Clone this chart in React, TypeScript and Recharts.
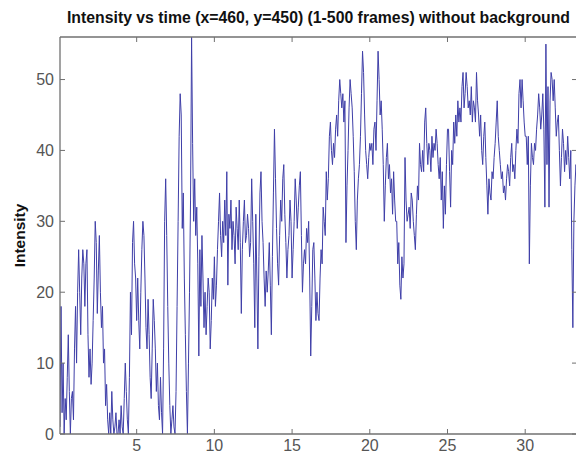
import React from "react";
import { LineChart, Line, XAxis, YAxis, Label } from "recharts";

// frames were grabbed at 15 fps, 500 frames in total
const FPS = 15;
const FRAMES = 500;

const xTicks = [5, 10, 15, 20, 25, 30];
const yTicks = [0, 10, 20, 30, 40, 50];

const titleText = "Intensity vs time (x=460, y=450) (1-500 frames) without background";
const yLabelText = "Intensity";

// intensity per frame (25 frames per row)
const intensity: number[] = [
    1, 18, 3, 10, 0, 5, 2, 8, 14, 6, 0, 5, 6, 2, 12, 18, 10, 20, 26, 20, 14, 22, 26, 24, 18,
    24, 26, 14, 8, 12, 7, 10, 16, 22, 30, 27, 17, 23, 28, 20, 15, 18, 10, 12, 4, 7, 2, 0, 3, 0,
    6, 2, 0, 1, 3, 0, 0, 2, 0, 4, 1, 0, 5, 10, 6, 2, 0, 8, 20, 14, 27, 30, 24, 22, 16,
    22, 16, 12, 20, 26, 30, 28, 22, 15, 12, 19, 14, 8, 5, 12, 19, 16, 12, 6, 10, 4, 2, 8, 3, 0,
    12, 30, 36, 28, 18, 10, 4, 0, 2, 4, 1, 0, 6, 18, 30, 42, 48, 45, 29, 34, 22, 14, 6, 0, 10,
    20, 33, 56, 41, 30, 36, 28, 32, 24, 11, 26, 18, 28, 22, 15, 20, 14, 18, 22, 20, 12, 16, 22, 19, 25,
    18, 21, 26, 30, 34, 28, 25, 30, 27, 33, 28, 37, 21, 31, 29, 33, 26, 30, 28, 24, 32, 29, 26, 33, 27,
    17, 26, 30, 33, 27, 28, 31, 29, 25, 27, 36, 30, 24, 15, 31, 22, 12, 25, 34, 37, 30, 27, 22, 18, 23,
    20, 23, 27, 21, 14, 25, 34, 43, 36, 29, 24, 21, 28, 33, 30, 36, 38, 31, 27, 22, 26, 28, 33, 30, 22,
    26, 30, 36, 33, 29, 32, 35, 37, 28, 20, 24, 26, 24, 29, 27, 30, 22, 11, 18, 26, 27, 22, 16, 20, 17,
    16, 22, 26, 24, 32, 30, 28, 37, 33, 36, 42, 44, 40, 38, 41, 39, 43, 45, 42, 47, 50, 48, 46, 48, 44,
    47, 27, 35, 40, 46, 50, 48, 46, 42, 37, 30, 26, 33, 36, 38, 42, 48, 54, 51, 45, 40, 38, 36, 39, 41,
    40, 41, 38, 43, 44, 40, 47, 54, 50, 45, 47, 43, 38, 30, 35, 39, 41, 36, 38, 34, 36, 31, 37, 33, 30,
    30, 24, 27, 21, 19, 25, 22, 24, 39, 33, 30, 31, 32, 29, 34, 33, 30, 28, 26, 31, 35, 33, 41, 38, 37,
    40, 37, 44, 46, 41, 38, 41, 40, 37, 42, 39, 41, 40, 43, 41, 38, 36, 39, 33, 37, 29, 35, 31, 38, 43,
    43, 37, 32, 40, 38, 44, 41, 45, 42, 47, 44, 46, 44, 49, 51, 46, 48, 51, 49, 46, 47, 45, 49, 44, 47,
    46, 44, 51, 47, 45, 42, 45, 40, 38, 42, 44, 39, 35, 31, 36, 34, 33, 37, 36, 39, 41, 44, 47, 42, 40,
    38, 36, 37, 34, 35, 33, 36, 38, 37, 35, 39, 41, 37, 38, 36, 40, 43, 41, 48, 50, 46, 50, 47, 44, 42,
    42, 38, 42, 24, 35, 41, 39, 38, 41, 40, 43, 45, 48, 46, 43, 45, 48, 43, 32, 55, 38, 49, 32, 47, 51,
    50, 47, 50, 46, 42, 44, 45, 40, 35, 39, 43, 41, 37, 40, 38, 42, 39, 36, 40, 26, 15, 30, 35, 38, 36,
];

const data = intensity.map((v, i) => ({ t: (i + 1) / FPS, v }));

const xDomain = [1 / FPS, FRAMES / FPS];
const yDomain = [0, 56];

const axisColor = "#707070";
const tickStyle = { fill: "#555", fontSize: 16 };
const noTick = () => <g />;

const YLabel = (props: any) => {
    const vb = props.viewBox;
    const cx = vb.x + 25;
    const cy = vb.y + vb.height / 2;
    return (
        <text x={cx} y={cy} transform={`rotate(-90 ${cx} ${cy})`} textAnchor="middle"
            fontSize={15.5} fontWeight="bold" fill="#111">
            {yLabelText}
        </text>
    );
};

const Title = (props: any) => {
    const vb = props.viewBox;
    return (
        <text x={vb.x + vb.width / 2} y={vb.y - 13} textAnchor="middle"
            fontSize={15.8} fontWeight="bold" fill="#111">
            {titleText}
        </text>
    );
};

const App: React.FC = () => {
    return (
        <div style={{ position: "absolute", left: 0, top: 0, width: 576, height: 452, overflow: "hidden", background: "#fff", fontFamily: "'Liberation Sans', Arial, sans-serif" }}>
            <LineChart width={580} height={452} data={data} margin={{ top: 36, right: 2, bottom: 0, left: 0 }}>
                <XAxis xAxisId="b" dataKey="t" type="number" domain={xDomain} ticks={xTicks} interval={0}
                    allowDataOverflow height={18} tickSize={-5} tickMargin={11}
                    axisLine={{ stroke: axisColor, strokeWidth: 1.3 }} tickLine={{ stroke: axisColor }} tick={tickStyle} />
                <XAxis xAxisId="top" orientation="top" dataKey="t" type="number" domain={xDomain} ticks={xTicks} interval={0}
                    allowDataOverflow height={1} tickSize={-5} tickMargin={0}
                    axisLine={{ stroke: axisColor, strokeWidth: 1.3 }} tickLine={{ stroke: axisColor }} tick={noTick}>
                    <Label content={Title} />
                </XAxis>
                <YAxis yAxisId="l" type="number" domain={yDomain} ticks={yTicks} interval={0} allowDataOverflow
                    width={60} tickSize={-5} tickMargin={11}
                    axisLine={{ stroke: axisColor, strokeWidth: 1.3 }} tickLine={{ stroke: axisColor }} tick={tickStyle}>
                    <Label content={YLabel} />
                </YAxis>
                <YAxis yAxisId="r" orientation="right" type="number" domain={yDomain} ticks={yTicks} interval={0} allowDataOverflow
                    width={1} tickSize={-5} tickMargin={0}
                    axisLine={{ stroke: axisColor, strokeWidth: 1.3 }} tickLine={{ stroke: axisColor }} tick={noTick} />
                <Line xAxisId="b" yAxisId="l" type="linear" dataKey="v" stroke="#3f3fa8" strokeWidth={1}
                    dot={false} isAnimationActive={false} />
            </LineChart>
        </div>
    );
};

export default App;
